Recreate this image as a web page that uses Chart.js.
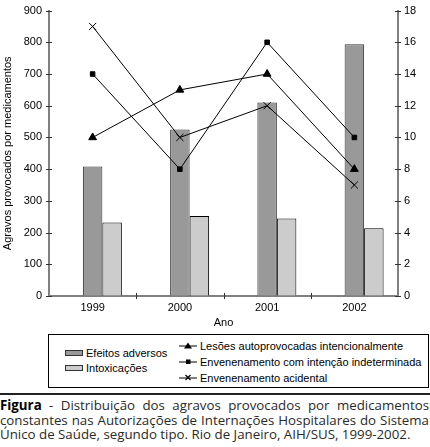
<!DOCTYPE html>
<html>
<head>
<meta charset="utf-8">
<script src="https://cdn.jsdelivr.net/npm/chart.js@4.4.1/dist/chart.umd.min.js"></script>
<style>
  html, body { margin: 0; padding: 0; background: #fff; }
  body { width: 430px; height: 447px; position: relative; overflow: hidden; font-family: "Liberation Sans", Arial, sans-serif; }
  #wrap { position: absolute; left: 0; top: 0; width: 430px; height: 330px; }
  #legend { position: absolute; left: 48px; top: 334px; width: 379px; height: 52px; border: 1px solid #000; font-size: 11px; color: #000; }
  .item { position: absolute; height: 14px; line-height: 14px; white-space: nowrap; }
  .sw { position: absolute; width: 16px; height: 4px; top: 4px; border: 1px solid #333; }
  .mk { position: absolute; top: 2px; }
  #rule { position: absolute; left: 0; top: 393px; width: 430px; height: 2px; background: #222; }
  #caption { position: absolute; left: 0; top: 398px; width: 429px; font-family: "Open Sans", "Lato", sans-serif; font-size: 13.3px; line-height: 14.5px; color: #2a2a2a; }
  #caption div { text-align: justify; text-align-last: justify; white-space: nowrap; }
  #caption div.last { text-align-last: left; }
  #caption b { color: #000; }
</style>
</head>
<body>
<div id="wrap"><canvas id="c" width="430" height="330"></canvas></div>
<div id="legend"></div>
<div id="rule"></div>
<div id="caption">
  <div><b>Figura</b> - Distribuição dos agravos provocados por medicamentos</div>
  <div>constantes nas Autorizações de Internações Hospitalares do Sistema</div>
  <div class="last">Único de Saúde, segundo tipo. Rio de Janeiro, AIH/SUS, 1999-2002.</div>
</div>
<script>
// ---- data ----
const years = ['1999', '2000', '2001', '2002'];
const efeitosAdversos = [408, 525, 610, 794];
const intoxicacoes = [232, 252, 244, 214];
const lesoesAutoprovocadas = [10, 13, 14, 8];
const envenenamentoIndeterminado = [14, 8, 16, 10];
const envenenamentoAcidental = [17, 10, 12, 7];
const leftTicks = [0, 100, 200, 300, 400, 500, 600, 700, 800, 900];
const rightTicks = [0, 2, 4, 6, 8, 10, 12, 14, 16, 18];

const barLabels = ['Efeitos adversos', 'Intoxicações'];
const lineLabels = ['Lesões autoprovocadas intencionalmente', 'Envenenamento com intenção indeterminada', 'Envenenamento acidental'];

const FONT = { family: '"Liberation Sans", Arial, sans-serif', size: 11 };

const crossTicks = {
  id: 'crossTicks',
  afterDraw(chart) {
    const ctx = chart.ctx, a = chart.chartArea;
    const y = chart.scales.y, y1 = chart.scales.y1, x = chart.scales.x;
    ctx.save();
    ctx.strokeStyle = '#333';
    ctx.lineWidth = 1;
    ctx.beginPath();
    leftTicks.forEach(v => { const p = Math.round(y.getPixelForValue(v)) + 0.5; ctx.moveTo(a.left - 3, p); ctx.lineTo(a.left + 3, p); });
    rightTicks.forEach(v => { const p = Math.round(y1.getPixelForValue(v)) + 0.5; ctx.moveTo(a.right - 3, p); ctx.lineTo(a.right + 3, p); });
    for (let i = 1; i < years.length; i++) {
      const p = Math.round((x.getPixelForValue(i - 1) + x.getPixelForValue(i)) / 2) + 0.5;
      ctx.moveTo(p, a.bottom - 3); ctx.lineTo(p, a.bottom + 3);
    }
    ctx.stroke();
    ctx.restore();
  }
};

new Chart(document.getElementById('c'), {
  type: 'bar',
  data: {
    labels: years,
    datasets: [
      { label: '', data: years.map(() => null), yAxisID: 'y', order: 2 },
      { label: barLabels[0], data: efeitosAdversos, yAxisID: 'y', backgroundColor: '#999999', borderColor: '#333333', borderWidth: 1, order: 2 },
      { label: barLabels[1], data: intoxicacoes, yAxisID: 'y', backgroundColor: '#cccccc', borderColor: '#000000', borderWidth: 1, order: 2 },
      { type: 'line', label: lineLabels[0], data: lesoesAutoprovocadas, yAxisID: 'y1', borderColor: '#000', borderWidth: 1, pointStyle: 'triangle', pointRadius: 4.5, pointBackgroundColor: '#000', pointBorderColor: '#000', tension: 0, order: 0 },
      { type: 'line', label: lineLabels[1], data: envenenamentoIndeterminado, yAxisID: 'y1', borderColor: '#000', borderWidth: 1, pointStyle: 'rect', pointRadius: 3.2, pointBackgroundColor: '#000', pointBorderColor: '#000', tension: 0, order: 0 },
      { type: 'line', label: lineLabels[2], data: envenenamentoAcidental, yAxisID: 'y1', borderColor: '#000', borderWidth: 1, pointStyle: 'crossRot', pointRadius: 5, pointBackgroundColor: '#000', pointBorderColor: '#000', pointBorderWidth: 1, tension: 0, order: 0 }
    ]
  },
  options: {
    responsive: false,
    animation: false,
    layout: { autoPadding: false, padding: { top: 5, left: 0, right: 0, bottom: 0 } },
    plugins: { legend: { display: false }, tooltip: { enabled: false } },
    datasets: { bar: { categoryPercentage: 0.67, barPercentage: 1.0 } },
    scales: {
      x: {
        grid: { display: true, color: 'rgba(0,0,0,0)', drawOnChartArea: false, tickLength: 3 },
        border: { display: true, color: '#808080', width: 2 },
        ticks: { font: FONT, color: '#000', padding: 2, maxRotation: 0 },
        title: { display: true, text: 'Ano', font: FONT, color: '#000', padding: 0 },
        afterFit(s) { s.height = 34; }
      },
      y: {
        position: 'left', min: 0, max: 900,
        grid: { display: true, color: 'rgba(0,0,0,0)', drawOnChartArea: false, tickLength: 3 },
        border: { display: true, color: '#808080', width: 2 },
        afterBuildTicks(s) { s.ticks = leftTicks.map(v => ({ value: v })); },
        ticks: { font: FONT, color: '#000', padding: 4 },
        title: { display: true, text: 'Agravos provocados por medicamentos', font: FONT, color: '#000', padding: { top: 1, bottom: 0 } },
        afterFit(s) { s.width = 49; }
      },
      y1: {
        position: 'right', min: 0, max: 18,
        grid: { display: true, color: 'rgba(0,0,0,0)', drawOnChartArea: false, tickLength: 3 },
        border: { display: true, color: '#808080', width: 2 },
        afterBuildTicks(s) { s.ticks = rightTicks.map(v => ({ value: v })); },
        ticks: { font: FONT, color: '#000', padding: 3 },
        afterFit(s) { s.width = 32; }
      }
    }
  },
  plugins: [crossTicks]
});

// ---- HTML legend ----
const legend = document.getElementById('legend');
const swatchColors = ['#999999', '#cccccc'];
barLabels.forEach((t, i) => {
  const d = document.createElement('div');
  d.className = 'item';
  d.style.left = '16px';
  d.style.top = (11 + i * 15) + 'px';
  d.innerHTML = '<span class="sw" style="left:0;background:' + swatchColors[i] + '"></span><span style="position:absolute;left:21px">' + t + '</span>';
  legend.appendChild(d);
});
const markers = [
  '<polygon points="9,1.5 13,7.5 5,7.5" fill="#000"/>',
  '<rect x="7" y="2.5" width="4.5" height="4.5" fill="#000"/>',
  '<path d="M6.5,2 L11.5,7 M11.5,2 L6.5,7" stroke="#000" stroke-width="1.2"/>'
];
lineLabels.forEach((t, i) => {
  const d = document.createElement('div');
  d.className = 'item';
  d.style.left = '130px';
  d.style.top = (4 + i * 16) + 'px';
  d.innerHTML = '<svg class="mk" width="19" height="10" style="left:0"><line x1="0" y1="5" x2="18" y2="5" stroke="#000" stroke-width="1"/>' + markers[i] + '</svg><span style="position:absolute;left:21px">' + t + '</span>';
  legend.appendChild(d);
});
</script>
</body>
</html>
